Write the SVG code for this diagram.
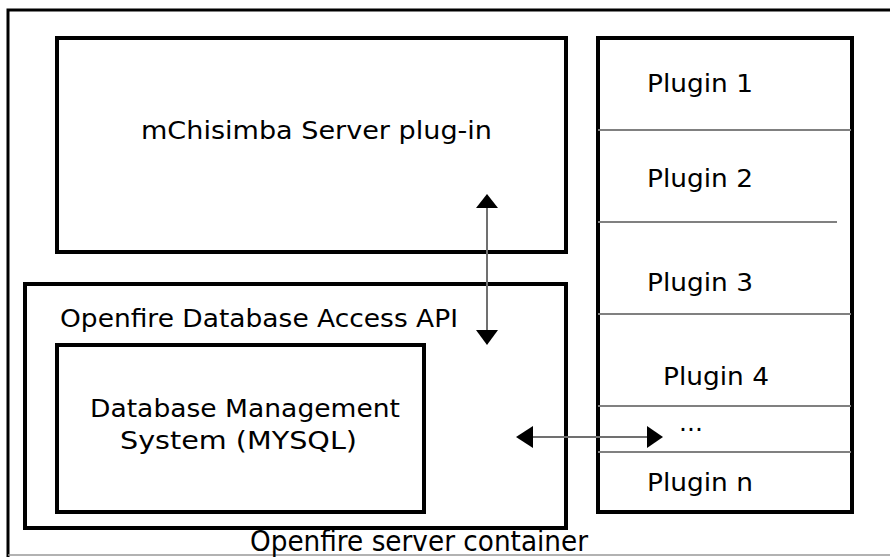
<svg xmlns="http://www.w3.org/2000/svg" width="890" height="557" viewBox="0 0 890 557">
<defs>
<style>
.box{fill:none;stroke:#000;stroke-width:4}
.sep{stroke:#808080;stroke-width:2}
.conn{stroke:#707070;stroke-width:2}
.head{fill:#000}
text{font-family:"DejaVu Sans","Liberation Sans",sans-serif;font-size:25px;fill:#000}
</style>
</defs>
<rect width="890" height="557" fill="#fff"/>
<g id="container">
<path d="M895 10 H8 V557" fill="none" stroke="#000" stroke-width="3"/>
<line x1="8" y1="555" x2="890" y2="555" stroke="#999" stroke-width="1.5"/>
<text x="250" y="551" textLength="338" lengthAdjust="spacingAndGlyphs" style="font-size:29px">Openfire server container</text>
</g>
<g id="mchisimba">
<rect class="box" x="57" y="38" width="509" height="214"/>
<text x="141" y="139" textLength="351" lengthAdjust="spacingAndGlyphs">mChisimba Server plug-in</text>
</g>
<g id="api">
<rect class="box" x="25" y="284" width="541" height="244"/>
<text x="60" y="327" textLength="398" lengthAdjust="spacingAndGlyphs">Openfire Database Access API</text>
</g>
<g id="dbms">
<rect class="box" x="57" y="345" width="367" height="167"/>
<text x="90" y="417" textLength="310" lengthAdjust="spacingAndGlyphs">Database Management</text>
<text x="120" y="449" textLength="237" lengthAdjust="spacingAndGlyphs">System (MYSQL)</text>
</g>
<g id="plugins">
<rect class="box" x="598" y="38" width="254" height="474"/>
<line class="sep" x1="598" y1="130" x2="851" y2="130"/>
<line class="sep" x1="598" y1="222" x2="837" y2="222"/>
<line class="sep" x1="598" y1="314" x2="851" y2="314"/>
<line class="sep" x1="598" y1="406" x2="851" y2="406"/>
<line class="sep" x1="598" y1="452" x2="851" y2="452"/>
<text x="647" y="92" textLength="106" lengthAdjust="spacingAndGlyphs">Plugin 1</text>
<text x="647" y="187" textLength="106" lengthAdjust="spacingAndGlyphs">Plugin 2</text>
<text x="647" y="291" textLength="106" lengthAdjust="spacingAndGlyphs">Plugin 3</text>
<text x="663" y="385" textLength="106" lengthAdjust="spacingAndGlyphs">Plugin 4</text>
<text x="679" y="431">...</text>
<text x="647" y="491" textLength="106" lengthAdjust="spacingAndGlyphs">Plugin n</text>
</g>
<g id="connectors">
<line class="conn" x1="487" y1="206" x2="487" y2="332"/>
<polygon class="head" points="487,194 476,208 498,208"/>
<polygon class="head" points="487,345 476,330 498,330"/>
<line class="conn" x1="531" y1="437" x2="649" y2="437"/>
<polygon class="head" points="516,437 533,426 533,448"/>
<polygon class="head" points="663,437 647,426 647,448"/>
</g>
</svg>
